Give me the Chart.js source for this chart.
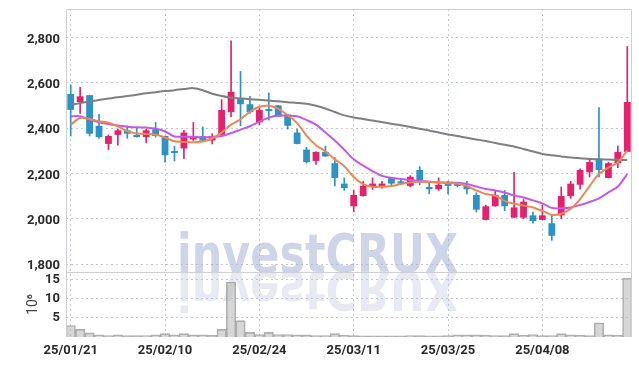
<!DOCTYPE html>
<html>
<head>
<meta charset="utf-8">
<script src="https://cdn.jsdelivr.net/npm/chart.js@4/dist/chart.umd.min.js"></script>
<style>
  html, body { margin: 0; padding: 0; background: #fff; }
  #wrap { position: relative; width: 639px; height: 366px; }
</style>
</head>
<body>
<div id="wrap"><canvas id="stockChart"></canvas></div>
<script>
// Trading days (yy/mm/dd)
const labels = [
  '25/01/21','25/01/22','25/01/23','25/01/24','25/01/31','25/02/03','25/02/04','25/02/05','25/02/06','25/02/07',
  '25/02/10','25/02/11','25/02/12','25/02/13','25/02/14','25/02/17','25/02/18','25/02/19','25/02/20','25/02/21',
  '25/02/24','25/02/25','25/02/26','25/02/27','25/02/28','25/03/04','25/03/05','25/03/06','25/03/07','25/03/10',
  '25/03/11','25/03/12','25/03/13','25/03/14','25/03/17','25/03/18','25/03/19','25/03/20','25/03/21','25/03/24',
  '25/03/25','25/03/26','25/03/27','25/03/28','25/03/31','25/04/01','25/04/02','25/04/03','25/04/04','25/04/07',
  '25/04/08','25/04/09','25/04/10','25/04/11','25/04/14','25/04/15','25/04/16','25/04/17','25/04/18','25/04/21'
];

// OHLC
const openP = [
  2550,2515,2545,2410,2330,2370,2390,2370,2360,2395,
  2365,2295,2310,2350,2365,2345,2370,2470,2530,2505,
  2425,2480,2500,2460,2380,2305,2255,2295,2245,2155,
  2055,2100,2140,2140,2180,2165,2145,2215,2140,2130,
  2160,2155,2145,2105,1995,2055,2105,2005,2005,2015,
  1995,1980,2015,2100,2150,2205,2265,2180,2245,2295
];
const highP = [
  2590,2580,2545,2460,2370,2395,2410,2400,2395,2425,
  2365,2320,2390,2425,2405,2375,2525,2785,2650,2540,
  2490,2555,2500,2460,2395,2315,2295,2320,2270,2180,
  2125,2165,2180,2165,2180,2170,2190,2230,2165,2180,
  2165,2160,2165,2115,2060,2125,2125,2205,2085,2030,
  2060,2015,2140,2165,2220,2265,2490,2250,2320,2760
];
const lowP = [
  2365,2465,2365,2355,2305,2325,2355,2360,2335,2360,
  2250,2255,2265,2345,2340,2330,2370,2450,2410,2465,
  2415,2435,2450,2395,2330,2245,2240,2275,2145,2125,
  2030,2100,2130,2135,2150,2150,2140,2150,2110,2125,
  2110,2140,2110,2030,1995,2055,2035,2005,2000,1980,
  1995,1905,2000,2090,2130,2185,2185,2180,2225,2295
];
const closeP = [
  2480,2540,2375,2360,2365,2390,2375,2360,2390,2365,
  2280,2290,2380,2355,2345,2365,2480,2560,2505,2470,
  2480,2475,2450,2410,2330,2250,2295,2275,2180,2135,
  2105,2145,2155,2155,2155,2155,2185,2170,2130,2150,
  2145,2145,2130,2040,2055,2105,2055,2050,2075,1990,
  2015,1925,2100,2155,2215,2250,2215,2245,2295,2515
];

// Moving averages
const ma5 = [
  2415,2444,2440,2430,2424,2407,2386,2376,2374,2372,
  2358,2342,2339,2337,2341,2354,2380,2415,2439,2472,
  2494,2498,2485,2457,2422,2367,2324,2297,2262,2232,
  2184,2153,2141,2141,2144,2153,2160,2163,2162,2160,
  2157,2155,2144,2125,2109,2102,2079,2066,2058,2050,
  2035,2017,2022,2044,2087,2144,2197,2226,2248,2302
];
const ma10 = [
  2452,2452,2438,2426,2418,2411,2406,2403,2402,2398,
  2385,2363,2362,2361,2359,2361,2365,2378,2393,2408,
  2428,2446,2455,2455,2452,2435,2415,2380,2345,2304,
  2262,2234,2210,2189,2181,2175,2171,2167,2164,2160,
  2160,2159,2153,2142,2131,2125,2116,2103,2094,2081,
  2068,2048,2046,2050,2061,2074,2090,2116,2142,2197
];
const ma60 = [
  2503,2510,2517,2524,2530,2536,2541,2547,2553,2558,
  2563,2567,2572,2576,2567,2551,2541,2534,2530,2527,
  2525,2521,2518,2514,2511,2507,2498,2486,2471,2456,
  2447,2440,2433,2427,2419,2412,2405,2397,2389,2380,
  2372,2365,2357,2350,2343,2334,2326,2319,2308,2297,
  2286,2280,2275,2270,2267,2264,2262,2261,2260,2259
];

// Volume, millions of shares
const volume = [
  3.0,2.0,1.1,0.6,0.4,0.6,0.35,0.35,0.4,0.6,
  0.9,0.6,0.9,0.6,0.6,0.45,2.0,14.4,4.3,1.2,
  0.65,1.2,0.65,0.65,0.6,0.55,0.4,0.4,0.9,0.5,
  0.35,0.3,0.3,0.3,0.3,0.3,0.4,0.35,0.3,0.3,
  0.35,0.6,0.6,0.6,0.5,0.4,0.35,0.9,0.5,0.65,
  0.35,0.4,0.9,0.6,0.5,0.35,3.7,0.6,0.5,15.4
];

const priceTicks = [1800, 2000, 2200, 2400, 2600, 2800];
const volumeTicks = [5, 10, 15];

const UP = '#e5206c';
const DOWN = '#2b93c7';
const GRID = '#c4c7d6';
const TEXT = '#2a2a2a';
const FONT = "Roboto, 'Liberation Sans', sans-serif";
const MARK = 'investCRUX';

const candleColor = (c) => closeP[c.dataIndex] >= openP[c.dataIndex] ? UP : DOWN;

// frame + watermark
const frame = {
  id: 'frame',
  beforeDatasetsDraw(chart) {
    const { ctx, chartArea: a, scales } = chart;
    const base = scales.y.bottom;
    ctx.save();
    ctx.font = "bold 54px 'DejaVu Sans', sans-serif";
    ctx.textBaseline = 'alphabetic';
    const w = ctx.measureText(MARK).width;
    ctx.translate(a.left + 111, base);
    ctx.scale(281 / w, 1);
    ctx.fillStyle = 'rgba(168,178,214,0.55)';
    ctx.fillText(MARK, 0, 0);
    ctx.scale(1, -1);
    ctx.fillStyle = 'rgba(190,196,222,0.35)';
    ctx.fillText(MARK, 0, 0);
    ctx.restore();
  },
  afterDraw(chart) {
    const { ctx, chartArea: a, scales } = chart;
    ctx.save();
    ctx.strokeStyle = '#cfcfd4';
    ctx.lineWidth = 1;
    ctx.beginPath();
    ctx.moveTo(a.left + 0.5, a.bottom);
    ctx.lineTo(a.left + 0.5, a.top + 0.5);
    ctx.lineTo(a.right - 0.5, a.top + 0.5);
    ctx.lineTo(a.right - 0.5, a.bottom);
    ctx.moveTo(a.left, Math.round(scales.y.bottom) + 0.5);
    ctx.lineTo(a.right, Math.round(scales.y.bottom) + 0.5);
    ctx.stroke();
    ctx.restore();
  }
};

const noPad = (s) => { s.paddingTop = 0; s.paddingBottom = 0; s.paddingLeft = 0; s.paddingRight = 0; };

const ctx = document.getElementById('stockChart').getContext('2d');

new Chart(ctx, {
  type: 'bar',
  data: {
    labels: labels,
    datasets: [
      {
        label: 'Volume',
        yAxisID: 'v',
        data: volume,
        backgroundColor: 'rgba(175,175,175,0.5)',
        borderColor: 'rgba(150,150,150,0.75)',
        borderWidth: 1,
        barPercentage: 1,
        categoryPercentage: 1,
        grouped: false,
        order: 9
      },
      {
        label: 'Wick',
        yAxisID: 'y',
        data: labels.map((_, i) => [lowP[i], highP[i]]),
        backgroundColor: candleColor,
        barThickness: 1,
        grouped: false,
        order: 8
      },
      {
        label: 'Body',
        yAxisID: 'y',
        data: labels.map((_, i) => [openP[i], closeP[i]]),
        backgroundColor: candleColor,
        barPercentage: 0.72,
        categoryPercentage: 1,
        minBarLength: 2,
        grouped: false,
        order: 7
      },
      {
        type: 'line', label: 'MA60', yAxisID: 'y', data: ma60,
        borderColor: '#7f7f7f', borderWidth: 2, pointRadius: 0, tension: 0.3, order: 3
      },
      {
        type: 'line', label: 'MA10', yAxisID: 'y', data: ma10,
        borderColor: '#c858ec', borderWidth: 2, pointRadius: 0, tension: 0.3, order: 2
      },
      {
        type: 'line', label: 'MA5', yAxisID: 'y', data: ma5,
        borderColor: '#f0874e', borderWidth: 2, pointRadius: 0, tension: 0.3, order: 1
      }
    ]
  },
  options: {
    responsive: true,
    maintainAspectRatio: false,
    animation: false,
    layout: { padding: { top: 9, right: 7, left: 0, bottom: 0 } },
    plugins: {
      legend: { display: false },
      tooltip: { enabled: false }
    },
    scales: {
      x: {
        offset: true,
        grid: {
          offset: false,
          drawTicks: false,
          color: (c) => c.index % 10 === 0 ? GRID : 'transparent'
        },
        border: { display: false, dash: [2, 3] },
        ticks: {
          autoSkip: false,
          maxRotation: 0,
          padding: 6,
          color: TEXT,
          font: { family: FONT, size: 13, weight: 'bold' },
          callback: (v, i) => i % 10 === 0 ? labels[i] : ''
        },
        afterFit: (s) => { s.height = 29; noPad(s); }
      },
      y: {
        position: 'left',
        stack: 'panes',
        stackWeight: 4.05,
        weight: 1,
        min: 1765,
        max: 2925,
        grid: { color: GRID, drawTicks: false },
        border: { display: false, dash: [2, 3] },
        ticks: {
          autoSkip: false,
          padding: 6,
          labelOffset: 2,
          color: TEXT,
          font: { family: FONT, size: 13, weight: 'bold' }
        },
        afterBuildTicks: (s) => { s.ticks = priceTicks.map(v => ({ value: v })); },
        afterFit: (s) => { s.width = 66; noPad(s); }
      },
      v: {
        position: 'left',
        stack: 'panes',
        stackWeight: 1,
        weight: 0,
        min: 0,
        max: 17,
        grid: { color: GRID, drawTicks: false },
        border: { display: false, dash: [2, 3] },
        title: {
          display: true,
          text: '10⁶',
          color: '#444',
          padding: { top: 25, bottom: 0 },
          font: { family: FONT, size: 14 }
        },
        ticks: {
          autoSkip: false,
          padding: 6,
          color: TEXT,
          font: { family: FONT, size: 13, weight: 'bold' }
        },
        afterBuildTicks: (s) => { s.ticks = volumeTicks.map(v => ({ value: v })); },
        afterFit: (s) => { s.width = 66; noPad(s); }
      }
    }
  },
  plugins: [frame]
});
</script>
</body>
</html>
